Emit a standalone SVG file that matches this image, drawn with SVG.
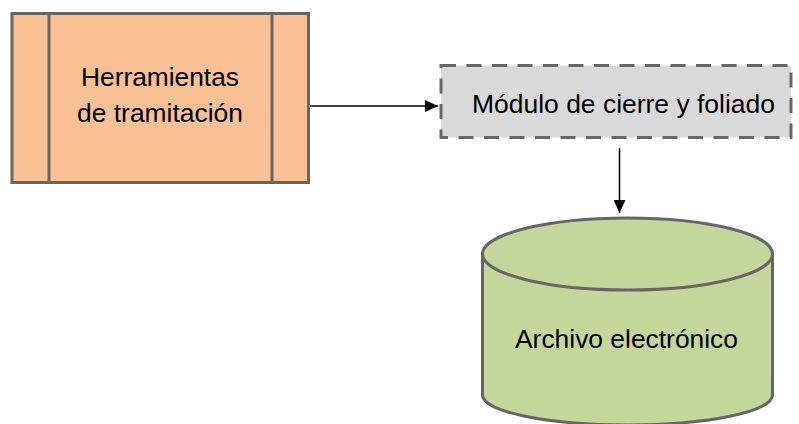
<svg xmlns="http://www.w3.org/2000/svg" width="799" height="424" viewBox="0 0 799 424">
  <style>
    .lbl { font-family: "Liberation Sans", Arial, sans-serif; font-size: 25px; fill: #000; text-anchor: middle; }
    .edge { stroke: #000; stroke-width: 1.5; fill: none; }
  </style>
  <defs>
    <marker id="arrow" viewBox="0 0 13 12" refX="13" refY="6" markerWidth="13" markerHeight="12" markerUnits="userSpaceOnUse" orient="auto">
      <path d="M0,0 L13,6 L0,12 z" fill="#000"/>
    </marker>
  </defs>
  <rect width="799" height="424" fill="#fff"/>

  <g id="herramientas">
    <rect x="12" y="13.5" width="296.5" height="169" fill="#F9C193" stroke="#666" stroke-width="3"/>
    <line x1="49" y1="13.5" x2="49" y2="182.5" stroke="#666" stroke-width="3"/>
    <line x1="272" y1="13.5" x2="272" y2="182.5" stroke="#666" stroke-width="3"/>
    <text class="lbl" x="160" y="86" textLength="158" lengthAdjust="spacingAndGlyphs">Herramientas</text>
    <text class="lbl" x="160" y="122" textLength="166" lengthAdjust="spacingAndGlyphs">de tramitación</text>
  </g>

  <g id="modulo">
    <rect x="441" y="65.5" width="350" height="72" fill="#D9D9D9" stroke="#666" stroke-width="3" stroke-dasharray="15 10.5"/>
    <text class="lbl" x="623.5" y="113" textLength="303" lengthAdjust="spacingAndGlyphs">Módulo de cierre y foliado</text>
  </g>

  <g id="archivo">
    <path d="M482.5,254 L482.5,395 A145,30 0 0 0 772.5,395 L772.5,254" fill="#C4D79B" stroke="#666" stroke-width="3"/>
    <ellipse cx="627.5" cy="254" rx="145" ry="36" fill="#C4D79B" stroke="#666" stroke-width="3"/>
    <text class="lbl" x="626.5" y="348" textLength="223" lengthAdjust="spacingAndGlyphs">Archivo electrónico</text>
  </g>

  <g id="connectors">
    <line class="edge" x1="310" y1="106" x2="438" y2="106" marker-end="url(#arrow)"/>
    <line class="edge" x1="619.5" y1="148" x2="619.5" y2="213" marker-end="url(#arrow)"/>
  </g>
</svg>
